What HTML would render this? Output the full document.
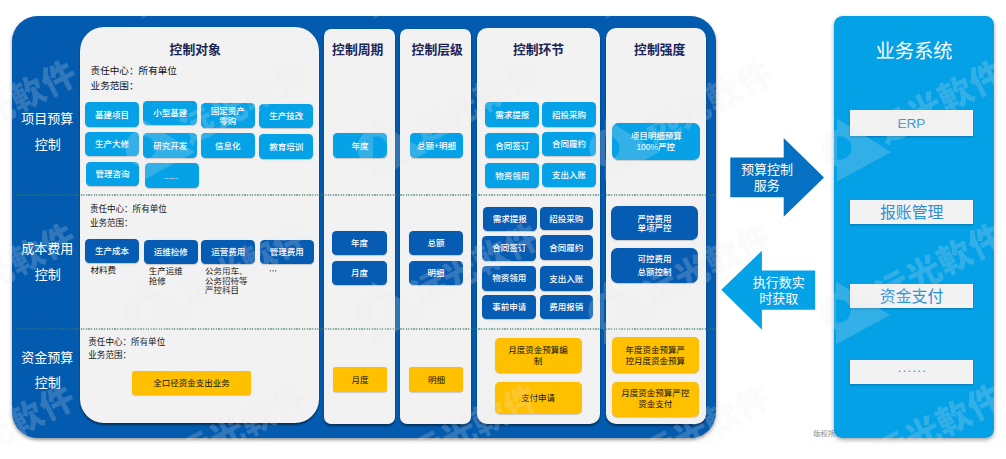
<!DOCTYPE html>
<html lang="zh-CN">
<head>
<meta charset="utf-8">
<title>预算控制体系</title>
<style>
html,body{margin:0;padding:0;background:#fff;}
body{width:1006px;height:459px;position:relative;overflow:hidden;font-family:"Liberation Sans",sans-serif;}
div{position:absolute;box-sizing:border-box;}
.sr{position:absolute;width:1px;height:1px;overflow:hidden;clip:rect(0 0 0 0);clip-path:inset(50%);white-space:nowrap;font-size:1px;color:transparent;}
.big{background:#035baf;border-radius:25.5px;box-shadow:0 2px 3.5px rgba(0,0,0,.42);}
.pn{background:#f2f2f2;box-shadow:0 1.5px 2px rgba(0,0,0,.45);}
.b{border-radius:4.5px;box-shadow:0 .5px 1px rgba(0,0,0,.18);}
.lb{background:#06a2e8;}
.db{background:#065bb2;}
.yb{background:#ffc000;border-radius:3px;}
.r5{border-radius:5px;}
.r6{border-radius:6.5px;}
.rp{background:#04a1e7;border-radius:8.5px;box-shadow:0 2px 4px rgba(0,0,0,.35);}
.wb{background:#f2f2f2;box-shadow:0 1px 2px rgba(0,0,0,.25);}
.erp{color:#3394d8;font-size:13.6px;line-height:26.6px;text-align:center;}
.dl{left:12.5px;width:703.5px;height:1.3px;background:repeating-linear-gradient(90deg,rgba(50,120,105,.55) 0 1.3px,rgba(50,120,105,.12) 1.3px 2.6px);}
svg{position:absolute;left:0;top:0;}
svg text{font-family:"Liberation Sans","Noto Sans CJK SC",sans-serif;}
.hd{font-size:12.8px;font-weight:700;fill:#1a2456;}
.rw{font-size:13px;fill:#fff;}
.mw{font-size:8.5px;font-weight:500;fill:#fff;}
.rk{font-size:8.5px;fill:#111;}
.wm{font-size:34px;font-weight:900;letter-spacing:0.6px;}
</style>
</head>
<body>
<div class="big" style="left:12.2px;top:15.6px;width:704.1px;height:422.4px;"></div>
<div class="pn" style="left:79.5px;top:26.5px;width:239.0px;height:396.9px;border-radius:24px"></div>
<div class="pn" style="left:324.0px;top:29.0px;width:71.2px;height:395.0px;border-radius:7px"></div>
<div class="pn" style="left:400.3px;top:29.0px;width:71.0px;height:395.0px;border-radius:7px"></div>
<div class="pn" style="left:476.7px;top:28.0px;width:123.6px;height:396.0px;border-radius:10px"></div>
<div class="pn" style="left:605.5px;top:27.6px;width:100.5px;height:396.4px;border-radius:10px"></div>
<div class="dl" style="top:194.4px"></div><div class="dl" style="top:328.3px"></div>
<div class="b lb" style="left:85.0px;top:102.4px;width:54.2px;height:24.6px;"><span class="sr">基建项目</span></div>
<div class="b lb" style="left:143.3px;top:100.8px;width:53.9px;height:24.7px;"><span class="sr">小型基建</span></div>
<div class="b lb" style="left:201.0px;top:103.3px;width:53.7px;height:24.4px;"><span class="sr">固定资产零购</span></div>
<div class="b lb" style="left:259.2px;top:103.7px;width:54.2px;height:24.6px;"><span class="sr">生产技改</span></div>
<div class="b lb" style="left:85.0px;top:131.6px;width:54.2px;height:24.5px;"><span class="sr">生产大修</span></div>
<div class="b lb" style="left:143.3px;top:133.2px;width:53.9px;height:24.4px;"><span class="sr">研究开发</span></div>
<div class="b lb" style="left:201.0px;top:133.0px;width:53.7px;height:24.7px;"><span class="sr">信息化</span></div>
<div class="b lb" style="left:259.2px;top:134.3px;width:54.2px;height:24.4px;"><span class="sr">教育培训</span></div>
<div class="b lb" style="left:85.6px;top:161.6px;width:53.8px;height:24.7px;"><span class="sr">管理咨询</span></div>
<div class="b lb" style="left:144.5px;top:163.2px;width:54.1px;height:24.7px;"><span class="sr">......</span></div>
<div class="b db" style="left:85.0px;top:238.6px;width:54.2px;height:24.4px;"><span class="sr">生产成本</span></div>
<div class="b db" style="left:143.7px;top:239.6px;width:53.9px;height:24.2px;"><span class="sr">运维检修</span></div>
<div class="b db" style="left:201.2px;top:239.6px;width:53.9px;height:24.2px;"><span class="sr">运营费用</span></div>
<div class="b db" style="left:259.9px;top:239.6px;width:53.9px;height:24.2px;"><span class="sr">管理费用</span></div>
<div class="b yb" style="left:132.0px;top:370.7px;width:119.0px;height:23.9px;"><span class="sr">全口径资金支出业务</span></div>
<div class="b lb" style="left:333.2px;top:133.1px;width:53.7px;height:24.7px;"><span class="sr">年度</span></div>
<div class="b db" style="left:332.2px;top:230.5px;width:54.8px;height:24.4px;"><span class="sr">年度</span></div>
<div class="b db" style="left:332.2px;top:260.7px;width:54.8px;height:24.7px;"><span class="sr">月度</span></div>
<div class="b yb" style="left:333.3px;top:367.2px;width:53.3px;height:24.6px;"><span class="sr">月度</span></div>
<div class="b lb" style="left:409.7px;top:133.1px;width:53.4px;height:24.7px;"><span class="sr">总额+明细</span></div>
<div class="b db" style="left:409.0px;top:230.5px;width:54.2px;height:24.4px;"><span class="sr">总额</span></div>
<div class="b db" style="left:409.0px;top:260.7px;width:54.2px;height:24.7px;"><span class="sr">明细</span></div>
<div class="b yb" style="left:409.4px;top:367.2px;width:54.0px;height:24.6px;"><span class="sr">明细</span></div>
<div class="b lb" style="left:485.4px;top:102.4px;width:53.7px;height:24.9px;"><span class="sr">需求提报</span></div>
<div class="b lb" style="left:542.1px;top:102.4px;width:53.9px;height:24.9px;"><span class="sr">招投采购</span></div>
<div class="b lb" style="left:485.4px;top:133.0px;width:53.7px;height:24.6px;"><span class="sr">合同签订</span></div>
<div class="b lb" style="left:542.1px;top:131.7px;width:53.9px;height:24.2px;"><span class="sr">合同履约</span></div>
<div class="b lb" style="left:485.4px;top:163.3px;width:53.7px;height:24.4px;"><span class="sr">物资领用</span></div>
<div class="b lb" style="left:542.1px;top:162.6px;width:53.9px;height:24.3px;"><span class="sr">支出入账</span></div>
<div class="b db" style="left:482.6px;top:206.5px;width:54.1px;height:24.7px;"><span class="sr">需求提报</span></div>
<div class="b db" style="left:539.5px;top:206.8px;width:53.4px;height:23.7px;"><span class="sr">招投采购</span></div>
<div class="b db" style="left:482.2px;top:235.7px;width:54.3px;height:25.0px;"><span class="sr">合同签订</span></div>
<div class="b db" style="left:539.5px;top:235.1px;width:53.4px;height:25.0px;"><span class="sr">合同履约</span></div>
<div class="b db" style="left:482.2px;top:265.6px;width:54.3px;height:25.0px;"><span class="sr">物资领用</span></div>
<div class="b db" style="left:539.5px;top:266.2px;width:53.4px;height:24.4px;"><span class="sr">支出入账</span></div>
<div class="b db" style="left:482.2px;top:294.6px;width:54.3px;height:24.4px;"><span class="sr">事前申请</span></div>
<div class="b db" style="left:539.5px;top:294.6px;width:53.4px;height:24.4px;"><span class="sr">费用报销</span></div>
<div class="b yb r5" style="left:494.5px;top:337.7px;width:87.2px;height:34.9px;"><span class="sr">月度资金预算编制</span></div>
<div class="b yb r5" style="left:494.5px;top:381.8px;width:87.2px;height:32.7px;"><span class="sr">支付申请</span></div>
<div class="b lb r6" style="left:612.4px;top:123.0px;width:87.5px;height:37.0px;"><span class="sr">项目明细预算100%严控</span></div>
<div class="b db r6" style="left:610.9px;top:205.9px;width:87.1px;height:34.4px;"><span class="sr">严控费用单项严控</span></div>
<div class="b db r6" style="left:610.9px;top:247.9px;width:87.1px;height:35.1px;"><span class="sr">可控费用总额控制</span></div>
<div class="b yb r5" style="left:611.7px;top:337.3px;width:87.1px;height:35.3px;"><span class="sr">年度资金预算严控月度资金预算</span></div>
<div class="b yb r5" style="left:611.7px;top:381.7px;width:87.1px;height:34.9px;"><span class="sr">月度资金预算严控资金支付</span></div>
<svg width="1006" height="459" viewBox="0 0 1006 459"><path d="M730.3 157.6H783.7V138L824 177.4L783.7 216.7V197.3H730.3Z" fill="#0670c2"/><path d="M815.2 270.4H761.9V250.7L721.3 289.7L761.9 329.7V309.7H815.2Z" fill="#06a2e8"/></svg>
<svg width="1006" height="459" viewBox="0 0 1006 459">
<text class="hd" x="169.6" y="53.66">控制对象</text>
<text class="hd" x="332.1" y="53.66">控制周期</text>
<text class="hd" x="411.6" y="53.66">控制层级</text>
<text class="hd" x="512.9" y="53.66">控制环节</text>
<text class="hd" x="634.1" y="53.66">控制强度</text>
<text class="rw" x="21.3" y="122.94">项目预算</text>
<text class="rw" x="34.8" y="148.54">控制</text>
<text class="rw" x="21.3" y="252.54">成本费用</text>
<text class="rw" x="34.8" y="278.64">控制</text>
<text class="rw" x="21.3" y="362.04">资金预算</text>
<text class="rw" x="34.8" y="387.44">控制</text>
<text x="90.6" y="73.55" font-size="9.6" fill="#111">责任中心：所有单位</text>
<text x="90.6" y="88.65" font-size="9.6" fill="#111">业务范围：</text>
<text x="89.9" y="212.45" font-size="8.55" fill="#111">责任中心：所有单位</text>
<text x="89.9" y="225.55" font-size="8.55" fill="#111">业务范围：</text>
<text x="88.3" y="345.45" font-size="8.55" fill="#111">责任中心：所有单位</text>
<text x="88.3" y="357.65" font-size="8.55" fill="#111">业务范围：</text>
<text class="mw" x="95.1" y="117.93">基建项目</text>
<text class="mw" x="153.25" y="116.38">小型基建</text>
<text class="mw" x="210.85" y="113.93">固定资产</text>
<text class="mw" x="219.35" y="123.53">零购</text>
<text class="mw" x="269.3" y="119.23">生产技改</text>
<text class="mw" x="95.1" y="147.08">生产大修</text>
<text class="mw" x="153.25" y="148.63">研究开发</text>
<text class="mw" x="215.1" y="148.58">信息化</text>
<text class="mw" x="269.3" y="149.73">教育培训</text>
<text class="mw" x="95.5" y="177.18">管理咨询</text>
<text x="164.04" y="179.04" font-size="8.4" font-weight="500" fill="#fff">......</text>
<text class="mw" x="95.1" y="254.03">生产成本</text>
<text class="mw" x="153.65" y="254.93">运维检修</text>
<text class="mw" x="211.15" y="254.93">运营费用</text>
<text class="mw" x="269.85" y="254.93">管理费用</text>
<text class="rk" x="90.6" y="273.03">材料费</text>
<text class="rk" x="148.8" y="274.23">生产运维</text>
<text class="rk" x="148.8" y="283.73">抢修</text>
<text class="rk" x="205" y="274.23">公务用车、</text>
<text class="rk" x="205" y="283.73">公务招待等</text>
<text class="rk" x="205" y="293.23">严控科目</text>
<g fill="#222"><circle cx="270.3" cy="270.8" r=".65"/><circle cx="273" cy="270.8" r=".65"/><circle cx="275.7" cy="270.8" r=".65"/></g>
<text class="rk" x="153.25" y="385.88">全口径资金支出业务</text>
<text class="mw" x="351.55" y="148.68">年度</text>
<text class="mw" x="351.1" y="245.93">年度</text>
<text class="mw" x="351.1" y="276.28">月度</text>
<text class="rk" x="351.45" y="382.73">月度</text>
<text class="mw" x="416.98" y="148.68">总额+明细</text>
<text class="mw" x="427.6" y="245.93">总额</text>
<text class="mw" x="427.6" y="276.28">明细</text>
<text class="rk" x="427.9" y="382.73">明细</text>
<text class="mw" x="495.25" y="118.08">需求提报</text>
<text class="mw" x="552.05" y="118.08">招投采购</text>
<text class="mw" x="495.25" y="148.53">合同签订</text>
<text class="mw" x="552.05" y="147.03">合同履约</text>
<text class="mw" x="495.25" y="178.73">物资领用</text>
<text class="mw" x="552.05" y="177.98">支出入账</text>
<text class="mw" x="492.65" y="222.08">需求提报</text>
<text class="mw" x="549.2" y="221.88">招投采购</text>
<text class="mw" x="492.35" y="251.43">合同签订</text>
<text class="mw" x="549.2" y="250.83">合同履约</text>
<text class="mw" x="492.35" y="281.33">物资领用</text>
<text class="mw" x="549.2" y="281.63">支出入账</text>
<text class="mw" x="492.35" y="310.03">事前申请</text>
<text class="mw" x="549.2" y="310.03">费用报销</text>
<text class="rk" x="508.35" y="352.93">月度资金预算编</text>
<text class="rk" x="533.85" y="363.83">制</text>
<text class="rk" x="521.1" y="401.38">支付申请</text>
<text class="mw" x="630.65" y="139.38">项目明细预算</text>
<text class="mw" x="636.39" y="150.08">100%严控</text>
<text class="mw" x="637.45" y="221.53">严控费用</text>
<text class="mw" x="637.45" y="231.13">单项严控</text>
<text class="mw" x="637.45" y="262.28">可控费用</text>
<text class="mw" x="637.45" y="275.08">总额控制</text>
<text class="rk" x="625.5" y="352.73">年度资金预算严</text>
<text class="rk" x="625.5" y="363.63">控月度资金预算</text>
<text class="rk" x="621.25" y="396.23">月度资金预算严控</text>
<text class="rk" x="638.25" y="407.13">资金支付</text>
<text class="rw" x="740.9" y="174.24">预算控制</text>
<text class="rw" x="753.7" y="189.54">服务</text>
<text class="rw" x="752.8" y="286.84">执行数实</text>
<text class="rw" x="759.3" y="303.24">时获取</text>
<text x="813.2" y="435.61" font-size="7.4" fill="#8a8a8a">版权所有</text>
</svg>
<div class="rp" style="left:833.7px;top:16.0px;width:160.3px;height:422.2px;"></div>
<div class="wb" style="left:849.7px;top:110.0px;width:123.7px;height:25.8px;"><span class="sr">ERP</span></div>
<div class="wb" style="left:849.7px;top:199.5px;width:123.7px;height:24.3px;"><span class="sr">报账管理</span></div>
<div class="wb" style="left:849.7px;top:284.3px;width:123.7px;height:24.0px;"><span class="sr">资金支付</span></div>
<div class="wb" style="left:849.7px;top:359.7px;width:123.7px;height:24.3px;"><span class="sr">......</span></div>
<svg width="1006" height="459" viewBox="0 0 1006 459">
<text x="875.5" y="57.93" font-size="19.3" fill="#fff">业务系统</text>
<text x="897.42" y="127.78" font-size="13.6" fill="#3394d8">ERP</text>
<text x="879.9" y="217.64" font-size="15.9" fill="#2b8fd6">报账管理</text>
<text x="879.8" y="302.04" font-size="15.9" fill="#2b8fd6">资金支付</text>
<text x="897.71" y="372.44" font-size="13" letter-spacing="1.3" fill="#2b8fd6">......</text>
</svg>
<svg width="1006" height="459" viewBox="0 0 1006 459" fill="#e8e8e8" color="#e8e8e8" opacity="0.2" style="clip-path:inset(14px 0 15.5px 0)"><g transform="translate(-87 -15)"><circle r="15.2" fill="none" stroke-width="6.8" stroke="currentColor"/><path fill-rule="evenodd" d="M-3 -29.5L51 4L-3 33.5Z M11.8 0A11.8 11.8 0 1 0 -11.8 0A11.8 11.8 0 1 0 11.8 0Z"/></g><g transform="translate(-33 -38) rotate(-27) translate(0 12.9)"><text class="wm" x="-17" y="0">远光軟件</text></g><g transform="translate(145 -15)"><circle r="15.2" fill="none" stroke-width="6.8" stroke="currentColor"/><path fill-rule="evenodd" d="M-3 -29.5L51 4L-3 33.5Z M11.8 0A11.8 11.8 0 1 0 -11.8 0A11.8 11.8 0 1 0 11.8 0Z"/></g><g transform="translate(199 -38) rotate(-27) translate(0 12.9)"><text class="wm" x="-17" y="0">远光軟件</text></g><g transform="translate(377 -15)"><circle r="15.2" fill="none" stroke-width="6.8" stroke="currentColor"/><path fill-rule="evenodd" d="M-3 -29.5L51 4L-3 33.5Z M11.8 0A11.8 11.8 0 1 0 -11.8 0A11.8 11.8 0 1 0 11.8 0Z"/></g><g transform="translate(431 -38) rotate(-27) translate(0 12.9)"><text class="wm" x="-17" y="0">远光軟件</text></g><g transform="translate(609 -15)"><circle r="15.2" fill="none" stroke-width="6.8" stroke="currentColor"/><path fill-rule="evenodd" d="M-3 -29.5L51 4L-3 33.5Z M11.8 0A11.8 11.8 0 1 0 -11.8 0A11.8 11.8 0 1 0 11.8 0Z"/></g><g transform="translate(663 -38) rotate(-27) translate(0 12.9)"><text class="wm" x="-17" y="0">远光軟件</text></g><g transform="translate(841 -15)"><circle r="15.2" fill="none" stroke-width="6.8" stroke="currentColor"/><path fill-rule="evenodd" d="M-3 -29.5L51 4L-3 33.5Z M11.8 0A11.8 11.8 0 1 0 -11.8 0A11.8 11.8 0 1 0 11.8 0Z"/></g><g transform="translate(895 -38) rotate(-27) translate(0 12.9)"><text class="wm" x="-17" y="0">远光軟件</text></g><g transform="translate(-88 148)"><circle r="15.2" fill="none" stroke-width="6.8" stroke="currentColor"/><path fill-rule="evenodd" d="M-3 -29.5L51 4L-3 33.5Z M11.8 0A11.8 11.8 0 1 0 -11.8 0A11.8 11.8 0 1 0 11.8 0Z"/></g><g transform="translate(-34 125) rotate(-27) translate(0 12.9)"><text class="wm" x="-17" y="0">远光軟件</text></g><g transform="translate(144 148)"><circle r="15.2" fill="none" stroke-width="6.8" stroke="currentColor"/><path fill-rule="evenodd" d="M-3 -29.5L51 4L-3 33.5Z M11.8 0A11.8 11.8 0 1 0 -11.8 0A11.8 11.8 0 1 0 11.8 0Z"/></g><g transform="translate(198 125) rotate(-27) translate(0 12.9)"><text class="wm" x="-17" y="0">远光軟件</text></g><g transform="translate(376 148)"><circle r="15.2" fill="none" stroke-width="6.8" stroke="currentColor"/><path fill-rule="evenodd" d="M-3 -29.5L51 4L-3 33.5Z M11.8 0A11.8 11.8 0 1 0 -11.8 0A11.8 11.8 0 1 0 11.8 0Z"/></g><g transform="translate(430 125) rotate(-27) translate(0 12.9)"><text class="wm" x="-17" y="0">远光軟件</text></g><g transform="translate(608 148)"><circle r="15.2" fill="none" stroke-width="6.8" stroke="currentColor"/><path fill-rule="evenodd" d="M-3 -29.5L51 4L-3 33.5Z M11.8 0A11.8 11.8 0 1 0 -11.8 0A11.8 11.8 0 1 0 11.8 0Z"/></g><g transform="translate(662 125) rotate(-27) translate(0 12.9)"><text class="wm" x="-17" y="0">远光軟件</text></g><g transform="translate(840 148)"><circle r="15.2" fill="none" stroke-width="6.8" stroke="currentColor"/><path fill-rule="evenodd" d="M-3 -29.5L51 4L-3 33.5Z M11.8 0A11.8 11.8 0 1 0 -11.8 0A11.8 11.8 0 1 0 11.8 0Z"/></g><g transform="translate(894 125) rotate(-27) translate(0 12.9)"><text class="wm" x="-17" y="0">远光軟件</text></g><g transform="translate(-89 311)"><circle r="15.2" fill="none" stroke-width="6.8" stroke="currentColor"/><path fill-rule="evenodd" d="M-3 -29.5L51 4L-3 33.5Z M11.8 0A11.8 11.8 0 1 0 -11.8 0A11.8 11.8 0 1 0 11.8 0Z"/></g><g transform="translate(-35 288) rotate(-27) translate(0 12.9)"><text class="wm" x="-17" y="0">远光軟件</text></g><g transform="translate(143 311)"><circle r="15.2" fill="none" stroke-width="6.8" stroke="currentColor"/><path fill-rule="evenodd" d="M-3 -29.5L51 4L-3 33.5Z M11.8 0A11.8 11.8 0 1 0 -11.8 0A11.8 11.8 0 1 0 11.8 0Z"/></g><g transform="translate(197 288) rotate(-27) translate(0 12.9)"><text class="wm" x="-17" y="0">远光軟件</text></g><g transform="translate(375 311)"><circle r="15.2" fill="none" stroke-width="6.8" stroke="currentColor"/><path fill-rule="evenodd" d="M-3 -29.5L51 4L-3 33.5Z M11.8 0A11.8 11.8 0 1 0 -11.8 0A11.8 11.8 0 1 0 11.8 0Z"/></g><g transform="translate(429 288) rotate(-27) translate(0 12.9)"><text class="wm" x="-17" y="0">远光軟件</text></g><g transform="translate(607 311)"><circle r="15.2" fill="none" stroke-width="6.8" stroke="currentColor"/><path fill-rule="evenodd" d="M-3 -29.5L51 4L-3 33.5Z M11.8 0A11.8 11.8 0 1 0 -11.8 0A11.8 11.8 0 1 0 11.8 0Z"/></g><g transform="translate(661 288) rotate(-27) translate(0 12.9)"><text class="wm" x="-17" y="0">远光軟件</text></g><g transform="translate(839 311)"><circle r="15.2" fill="none" stroke-width="6.8" stroke="currentColor"/><path fill-rule="evenodd" d="M-3 -29.5L51 4L-3 33.5Z M11.8 0A11.8 11.8 0 1 0 -11.8 0A11.8 11.8 0 1 0 11.8 0Z"/></g><g transform="translate(893 288) rotate(-27) translate(0 12.9)"><text class="wm" x="-17" y="0">远光軟件</text></g><g transform="translate(-90 472)"><circle r="15.2" fill="none" stroke-width="6.8" stroke="currentColor"/><path fill-rule="evenodd" d="M-3 -29.5L51 4L-3 33.5Z M11.8 0A11.8 11.8 0 1 0 -11.8 0A11.8 11.8 0 1 0 11.8 0Z"/></g><g transform="translate(-36 449) rotate(-27) translate(0 12.9)"><text class="wm" x="-17" y="0">远光軟件</text></g><g transform="translate(142 472)"><circle r="15.2" fill="none" stroke-width="6.8" stroke="currentColor"/><path fill-rule="evenodd" d="M-3 -29.5L51 4L-3 33.5Z M11.8 0A11.8 11.8 0 1 0 -11.8 0A11.8 11.8 0 1 0 11.8 0Z"/></g><g transform="translate(196 449) rotate(-27) translate(0 12.9)"><text class="wm" x="-17" y="0">远光軟件</text></g><g transform="translate(374 472)"><circle r="15.2" fill="none" stroke-width="6.8" stroke="currentColor"/><path fill-rule="evenodd" d="M-3 -29.5L51 4L-3 33.5Z M11.8 0A11.8 11.8 0 1 0 -11.8 0A11.8 11.8 0 1 0 11.8 0Z"/></g><g transform="translate(428 449) rotate(-27) translate(0 12.9)"><text class="wm" x="-17" y="0">远光軟件</text></g><g transform="translate(606 472)"><circle r="15.2" fill="none" stroke-width="6.8" stroke="currentColor"/><path fill-rule="evenodd" d="M-3 -29.5L51 4L-3 33.5Z M11.8 0A11.8 11.8 0 1 0 -11.8 0A11.8 11.8 0 1 0 11.8 0Z"/></g><g transform="translate(660 449) rotate(-27) translate(0 12.9)"><text class="wm" x="-17" y="0">远光軟件</text></g><g transform="translate(838 472)"><circle r="15.2" fill="none" stroke-width="6.8" stroke="currentColor"/><path fill-rule="evenodd" d="M-3 -29.5L51 4L-3 33.5Z M11.8 0A11.8 11.8 0 1 0 -11.8 0A11.8 11.8 0 1 0 11.8 0Z"/></g><g transform="translate(892 449) rotate(-27) translate(0 12.9)"><text class="wm" x="-17" y="0">远光軟件</text></g></svg>
<p class="sr">控制对象 | 控制周期 | 控制层级 | 控制环节 | 控制强度 | 项目预算控制 | 成本费用控制 | 资金预算控制 | 责任中心：所有单位 业务范围： | 责任中心：所有单位 业务范围： | 责任中心：所有单位 业务范围： | 材料费 | 生产运维抢修 | 公务用车、公务招待等严控科目 | … | 预算控制服务 | 执行数实时获取 | 业务系统</p>
</body>
</html>
